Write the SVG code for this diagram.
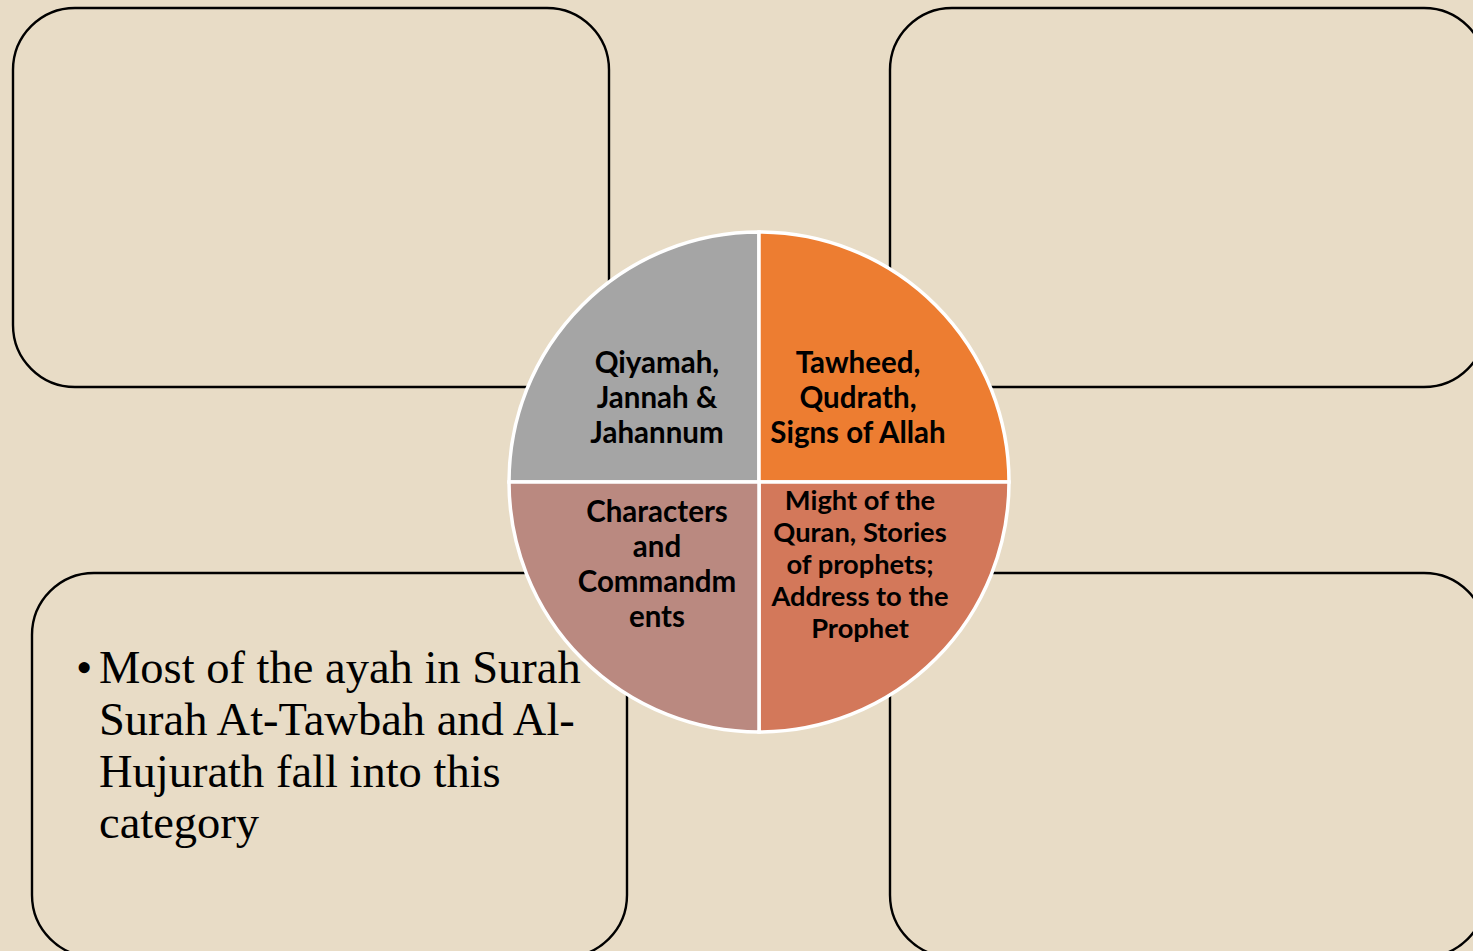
<svg xmlns="http://www.w3.org/2000/svg" width="1473" height="951" viewBox="0 0 1473 951">
<style>
.box{fill:none;stroke:#000;stroke-width:2.4}
.q{stroke:#fff;stroke-width:3.5}
.lbl{font-family:Lato,"Open Sans",sans-serif;font-weight:bold;font-size:29.5px;fill:#000;text-anchor:middle}
.lbl2{font-family:Lato,"Open Sans",sans-serif;font-weight:bold;font-size:27.3px;fill:#000;text-anchor:middle}
.body{font-family:"Liberation Serif","Times New Roman",serif;font-size:46.5px;fill:#000}
</style>
<rect x="0" y="0" width="1473" height="951" fill="#e8dcc6"/>
<g id="box-top-left"><rect class="box" x="13" y="8" width="596" height="379" rx="62" ry="62"/></g>
<g id="box-top-right"><rect class="box" x="890" y="8" width="596" height="379" rx="62" ry="62"/></g>
<g id="box-bottom-left">
<rect class="box" x="32" y="573" width="595" height="384" rx="62" ry="62"/>
<text class="body" x="76" y="683">•</text>
<text class="body" x="99" y="683">Most of the ayah in Surah</text>
<text class="body" x="99" y="735">Surah At-Tawbah and Al-</text>
<text class="body" x="99" y="787">Hujurath fall into this</text>
<text class="body" x="99" y="838">category</text>
</g>
<g id="box-bottom-right"><rect class="box" x="890" y="573" width="596" height="384" rx="62" ry="62"/></g>
<g id="connectors"></g>
<g id="quadrant-qiyamah">
<path class="q" fill="#a5a5a5" d="M759,482 L509,482 A250,250 0 0 1 759,232 Z"/>
<text class="lbl" x="657" y="373">Qiyamah,</text>
<text class="lbl" x="657" y="408">Jannah &amp;</text>
<text class="lbl" x="657" y="443">Jahannum</text>
</g>
<g id="quadrant-tawheed">
<path class="q" fill="#ed7d31" d="M759,482 L759,232 A250,250 0 0 1 1009,482 Z"/>
<text class="lbl" x="858" y="373">Tawheed,</text>
<text class="lbl" x="858" y="408">Qudrath,</text>
<text class="lbl" x="858" y="443">Signs of Allah</text>
</g>
<g id="quadrant-might">
<path class="q" fill="#d3785a" d="M759,482 L1009,482 A250,250 0 0 1 759,732 Z"/>
<text class="lbl2" x="860" y="510">Might of the</text>
<text class="lbl2" x="860" y="542">Quran, Stories</text>
<text class="lbl2" x="860" y="574">of prophets;</text>
<text class="lbl2" x="860" y="606">Address to the</text>
<text class="lbl2" x="860" y="638">Prophet</text>
</g>
<g id="quadrant-characters">
<path class="q" fill="#ba8980" d="M759,482 L759,732 A250,250 0 0 1 509,482 Z"/>
<text class="lbl" x="657" y="522">Characters</text>
<text class="lbl" x="657" y="557">and</text>
<text class="lbl" x="657" y="592">Commandm</text>
<text class="lbl" x="657" y="627">ents</text>
</g>
</svg>
